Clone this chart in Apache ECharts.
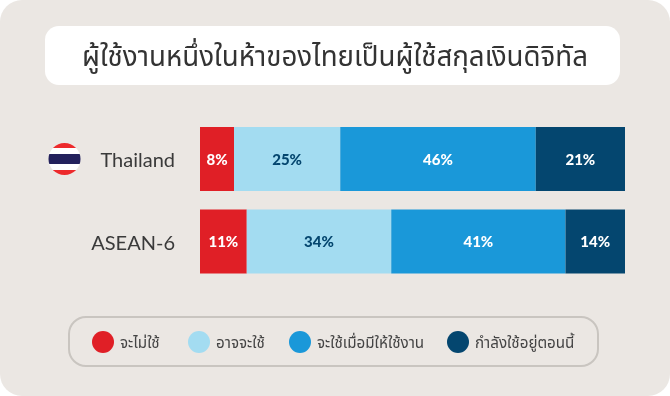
<!DOCTYPE html>
<html><head><meta charset="utf-8">
<style>html,body{margin:0;padding:0;background:#fff}#c{width:670px;height:396px}</style>
<script src="https://cdn.jsdelivr.net/npm/echarts@6/dist/echarts.min.js"></script>
</head><body><div id="c"></div>
<script>
const titleText = 'ผู้ใช้งานหนึ่งในห้าของไทยเป็นผู้ใช้สกุลเงินดิจิทัล';
const categories = ['Thailand', 'ASEAN-6'];
const seriesNames = ['จะไม่ใช้', 'อาจจะใช้', 'จะใช้เมื่อมีให้ใช้งาน', 'กำลังใช้อยู่ตอนนี้'];
const neverUse = [8, 11];
const mayUse = [25, 34];
const willUse = [46, 41];
const usingNow = [21, 14];
const colors = ['#e01f26', '#a3dcf1', '#1a98d9', '#04466f'];
const labelColors = ['#fff', '#04466f', '#fff', '#fff'];
const legendLefts = [92, 188, 289, 447];
const values = [neverUse, mayUse, willUse, usingNow];
const thaiFont = '"Noto Sans Thai","Noto Sans","DejaVu Sans",sans-serif';

const chart = echarts.init(document.getElementById('c'), null, {renderer: 'canvas'});
chart.setOption({
  animation: false,
  backgroundColor: '#fff',
  grid: {left: 200, right: 45, top: 117.75, height: 165, containLabel: false},
  xAxis: {type: 'value', min: 0, max: 100, show: false},
  yAxis: {
    type: 'category', inverse: true, data: categories,
    axisLine: {show: false}, axisTick: {show: false},
    axisLabel: {
      margin: 25, formatter: '{a|{value}}',
      rich: {a: {fontFamily: 'Lato', fontSize: 20, color: '#3a3a3a', padding: [4, 0, 0, 0]}}
    }
  },
  legend: seriesNames.map((n, i) => ({
    data: [n], left: legendLefts[i], top: 331, orient: 'horizontal',
    icon: 'circle', itemWidth: 22, itemHeight: 22, itemGap: 0, padding: 0,
    selectedMode: false, formatter: '{a|{name}}',
    textStyle: {rich: {a: {fontFamily: thaiFont, fontSize: 15.2, color: '#444', padding: [6, 0, 0, 1]}}}
  })),
  graphic: [
    {type: 'rect', z: -10, shape: {x: 0, y: 0, width: 670, height: 396, r: 22}, style: {fill: '#ebe7e3'}},
    {type: 'rect', z: -9, shape: {x: 45, y: 26, width: 575, height: 59, r: 14}, style: {fill: '#fff'}},
    {type: 'text', z: 5, x: 335, y: 60, style: {text: titleText, fontFamily: thaiFont, fontSize: 27.7, fill: '#333', align: 'center', verticalAlign: 'middle'}},
    {type: 'rect', z: -9, shape: {x: 69, y: 317, width: 529, height: 49, r: 17}, style: {fill: 'transparent', stroke: '#c9c5c0', lineWidth: 2}},
    {type: 'circle', z: 5, shape: {cx: 64.5, cy: 159, r: 16}, style: {fill: {
      type: 'linear', x: 0, y: 0, x2: 0, y2: 1,
      colorStops: [
        {offset: 0, color: '#ed2a2c'}, {offset: .17, color: '#ed2a2c'},
        {offset: .17, color: '#fff'}, {offset: .33, color: '#fff'},
        {offset: .33, color: '#23215c'}, {offset: .67, color: '#23215c'},
        {offset: .67, color: '#fff'}, {offset: .83, color: '#fff'},
        {offset: .83, color: '#ed2a2c'}, {offset: 1, color: '#ed2a2c'}
      ]}}}
  ],
  series: seriesNames.map((n, i) => ({
    name: n, type: 'bar', stack: 'all', barWidth: 64,
    data: values[i],
    itemStyle: {color: colors[i]},
    label: {show: true, position: 'inside', offset: [0, 1], formatter: '{c}%', fontFamily: 'Lato', fontWeight: 900, fontSize: 15, color: labelColors[i]}
  }))
});
</script></body></html>
